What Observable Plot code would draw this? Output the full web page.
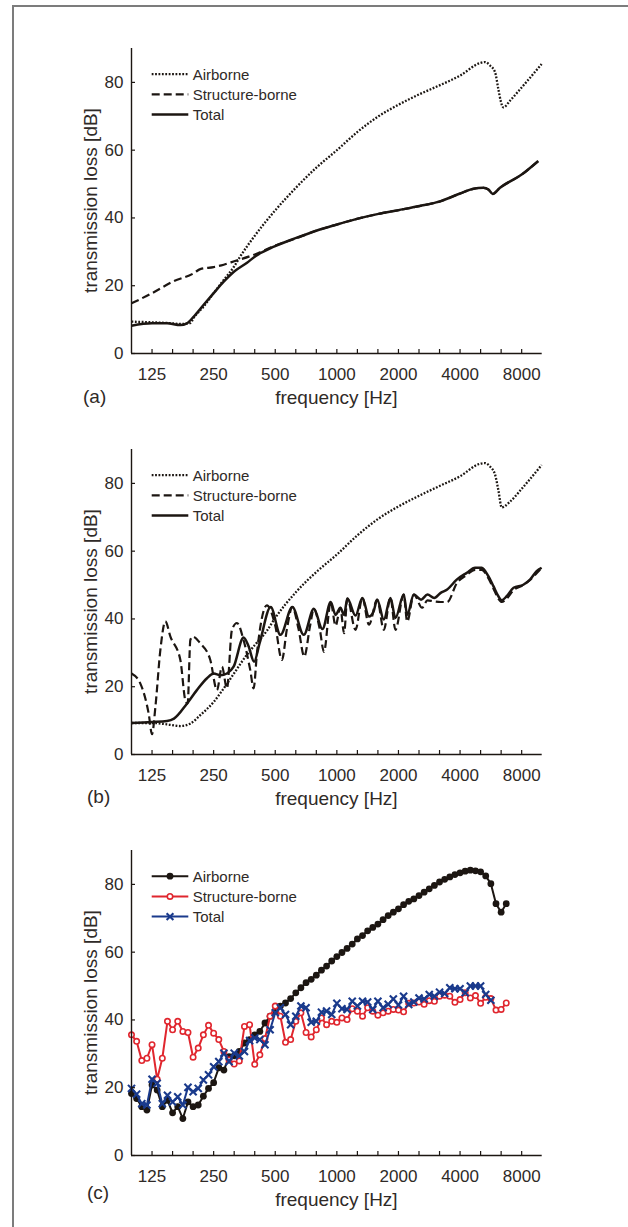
<!DOCTYPE html>
<html><head><meta charset="utf-8">
<script src="https://cdn.jsdelivr.net/npm/d3@7"></script>
<script src="https://cdn.jsdelivr.net/npm/@observablehq/plot@0.6"></script>
<style>
body{margin:0;background:#fff;}
#fig{position:relative;width:628px;height:1227px;overflow:hidden;font-family:"Liberation Sans",Arial,sans-serif;}
#frame{position:absolute;left:12px;top:5px;width:700px;height:1300px;border-left:2px solid #7c7c7c;border-top:2px solid #7c7c7c;}
#fig svg{position:absolute;left:0;}
</style></head><body><div id="fig"><div id="frame"></div></div>
<script>
// ---------- shared axis data ----------
const xDomain = [99.21, 10079];
const xLabelTicks = [125, 250, 500, 1000, 2000, 4000, 8000];
const xMinorTicks = [125, 157.5, 198.4, 250, 315, 396.9, 500, 630, 793.7, 1000, 1260, 1587, 2000, 2520, 3175, 4000, 5040, 6350, 8000];
const yTicks = [0, 20, 40, 60, 80];
const seriesNames = ["Airborne", "Structure-borne", "Total"];
const panelLetters = ["(a)", "(b)", "(c)"];
const xTitle = "frequency [Hz]";
const yTitle = "transmission loss [dB]";

// ---------- panel (a) ----------
const fA_air = [99.2, 125, 158, 172, 192, 200, 223, 250, 280, 315, 337, 400, 496, 633, 799, 992, 1267, 1598, 2000, 2533, 3195, 4000, 5008, 5300, 5602, 5929, 6155, 6316, 6510, 7015, 8000, 10013];
const tlA_air = [9.4, 9.2, 8.9, 8.7, 9.0, 10.6, 13.8, 17.8, 21.7, 25.7, 28.6, 35.0, 42.0, 49.0, 55.0, 59.8, 65.5, 70.0, 73.4, 76.5, 79.2, 82.0, 85.7, 86.0, 85.0, 83.0, 78.0, 74.6, 72.6, 74.6, 78.5, 85.4];
const fA_str = [99.2, 125, 158, 200, 215, 250, 280, 315, 400, 496, 633, 799, 992, 1267, 1598, 2000, 2533, 3195, 4000, 4646, 5200, 5500, 5775, 6270, 8000, 9650];
const tlA_str = [14.8, 17.8, 21.2, 23.7, 24.9, 25.5, 26.2, 27.2, 29.3, 31.8, 34.0, 36.3, 38.0, 39.8, 41.2, 42.3, 43.5, 44.9, 47.2, 48.6, 48.9, 48.4, 47.1, 48.9, 52.8, 56.8];
const fA_tot = [99.2, 125, 148, 172, 185, 200, 223, 250, 280, 315, 364, 400, 496, 633, 799, 992, 1267, 1598, 2000, 2533, 3195, 4000, 4646, 5200, 5500, 5775, 6270, 8000, 9650];
const tlA_tot = [8.2, 8.9, 8.9, 8.4, 8.9, 10.9, 14.3, 17.8, 21.2, 24.2, 26.8, 28.7, 31.6, 34.1, 36.3, 38.0, 39.8, 41.2, 42.3, 43.5, 44.9, 47.2, 48.6, 48.9, 48.4, 47.1, 48.9, 52.8, 56.8];

// ---------- panel (b) ----------
const fB_air = [99.2, 125, 148, 172, 192, 215, 250, 280, 315, 364, 400, 455, 496, 633, 799, 992, 1267, 1598, 2000, 2533, 3195, 4000, 5008, 5300, 5602, 5929, 6155, 6392, 7015, 8000, 10013];
const tlB_air = [9.3, 9.3, 8.9, 8.4, 9.1, 11.6, 15.5, 19.5, 24.0, 29.5, 32.5, 36.5, 40.0, 48.0, 54.0, 58.8, 64.8, 69.6, 73.2, 76.4, 79.3, 82.1, 85.8, 86.0, 85.0, 82.6, 78.0, 72.9, 74.6, 78.4, 85.4];
const fB_str = [99.2, 109.5, 120.4, 125, 129.8, 137.3, 145.2, 153.7, 171.9, 181.8, 186.6, 192.4, 197.4, 215.2, 240.8, 259.5, 274.5, 290.4, 307.2, 325, 350, 377.5, 392, 407, 455, 500, 539, 570, 606, 650, 693, 740, 772, 825, 865, 933, 986, 1040, 1085, 1125, 1234, 1332, 1435, 1575, 1696, 1828, 1933, 2123, 2206, 2378, 2610, 2772, 2975, 3216, 3461, 3852, 4311, 4735, 5102, 5500, 5820, 6155, 6392, 6760, 7300, 8150, 8788, 9468, 10013];
const tlB_str = [23.9, 21, 12, 6, 14, 30.9, 39.3, 34.8, 27.9, 16, 15, 33.8, 34.8, 32.8, 27.9, 19, 25.9, 19.5, 36.8, 38.8, 33.8, 24.9, 19.5, 29.9, 44, 38, 27.9, 37, 43.5, 37, 28.9, 38, 43, 37, 30.3, 45, 38, 43.3, 35.8, 46, 36.8, 46.2, 38.3, 45.7, 36.8, 46.2, 36.8, 47.2, 39.2, 47.2, 43.3, 45.5, 45.2, 45, 45, 50.5, 53, 54.5, 54.5, 52, 49, 46, 45, 46, 48.5, 50, 51.5, 53.5, 55];
const fB_tot = [99.2, 125, 148, 160, 185, 207, 232, 250, 270, 290, 313, 350, 370, 394, 420, 475, 530, 606, 689, 772, 850, 933, 986, 1040, 1085, 1125, 1234, 1332, 1435, 1511, 1575, 1696, 1828, 1933, 2123, 2206, 2378, 2580, 2772, 2990, 3216, 3461, 3852, 4311, 4735, 5102, 5500, 5820, 6155, 6392, 6760, 7300, 8150, 8788, 9468, 10013];
const tlB_tot = [9.3, 9.6, 9.9, 10.6, 15, 19, 22.5, 23.9, 23.4, 23.9, 25.9, 34.5, 32, 27.4, 33, 43.5, 35.3, 43.5, 35.3, 43, 37, 45, 41.2, 43.3, 41.2, 46, 41, 46.2, 40.7, 42.2, 45.7, 39.8, 46.2, 40.3, 47.2, 41.2, 47.2, 45.7, 47.2, 46.2, 47.7, 48.7, 51.6, 53.6, 55.1, 55.1, 52.6, 49.7, 46.7, 45.5, 46.7, 49.2, 50.1, 51.6, 54.1, 55.1];

// ---------- panel (c): 1/12-octave bands ----------
const fC = [99.2, 105.1, 111.4, 118.0, 125, 132.4, 140.3, 148.7, 157.5, 166.9, 176.8, 187.3, 198.4, 210.2, 222.7, 236, 250, 264.9, 280.6, 297.3, 315, 333.7, 353.6, 374.6, 396.9, 420.4, 445.4, 471.9, 500, 529.7, 561.2, 594.6, 630, 667.4, 707.1, 749.2, 793.7, 840.9, 890.9, 943.9, 1000, 1059, 1122, 1189, 1260, 1335, 1414, 1498, 1587, 1682, 1782, 1888, 2000, 2119, 2245, 2378, 2520, 2670, 2828, 2997, 3175, 3364, 3564, 3775, 4000, 4238, 4490, 4757, 5040, 5339, 5657, 5993, 6350, 6727];
const tlC_air = [18.3, 16.8, 14.4, 13.4, 20.8, 19.3, 14.4, 16.3, 12.6, 14.4, 10.9, 15.8, 14.4, 14.9, 17.5, 19.8, 21.5, 25.9, 25.2, 29.2, 29.4, 30.7, 33.2, 34.2, 35.6, 36.6, 39.1, 41.1, 42.6, 44.1, 45.0, 46.3, 48.0, 49.5, 51, 52, 53.2, 54.7, 55.9, 57.4, 58.7, 59.9, 61.1, 62.4, 63.9, 64.9, 66.3, 67.3, 68.3, 69.6, 70.8, 71.8, 72.8, 74, 75, 75.7, 76.7, 77.7, 78.7, 79.7, 80.7, 81.5, 82.2, 82.9, 83.4, 83.9, 84.2, 84, 83.7, 82.5, 80.2, 74.3, 71.8, 74.3];
const tlC_str = [35.6, 33.7, 28.0, 28.7, 32.7, 22.5, 28.7, 39.6, 37.1, 39.6, 36.6, 36.3, 29, 31.7, 35.6, 38.4, 36.1, 34.2, 30.7, 28.2, 27, 27.9, 38.1, 38.6, 26.9, 29.7, 34.5, 41.1, 44.1, 41.1, 33.4, 34.2, 39.6, 42.1, 36.3, 35, 37.1, 40.6, 38.6, 39.6, 39.3, 40.6, 40.1, 43.3, 42.6, 41.1, 43.6, 42.6, 41.4, 42.1, 42.6, 43.1, 42.9, 42.4, 44.9, 45, 45.3, 44.6, 45.7, 45.5, 47, 47.3, 47, 45.2, 46, 48, 46.5, 47.2, 44.9, 46.7, 46.3, 42.9, 43.1, 45];
const tlC_tot = [19.8, 18.1, 15.3, 14.9, 22.5, 21.3, 15.3, 17.8, 15.8, 17.3, 14.9, 20.1, 18.8, 19.8, 22.3, 23.8, 26.2, 27.7, 30.2, 27.7, 30.2, 29.4, 30.7, 33.9, 34.7, 34.2, 32.7, 37.1, 42.1, 43.6, 41.6, 38.6, 41.1, 44.1, 43.6, 39.3, 39.6, 42.3, 42.6, 41.6, 44.9, 43.3, 43.1, 45.5, 44.1, 45.5, 45.3, 43.1, 45.5, 43.6, 44.6, 46.2, 44.4, 47, 44.6, 45.3, 46.5, 46.2, 47.5, 47, 48.2, 47.8, 49.5, 49.2, 49.2, 48, 50, 50, 50, 47.5, 45.8];

// ---------- styling ----------
const W = 628, H = 420, ML = 131, MR = 86.3, MT = 48, MB = 67;
const ink = "#1c1612", textInk = "#2f2a27";
const red = "#e0262e", blue = "#1a3a8c";
const FONT = "'Liberation Sans', Arial, Helvetica, sans-serif";

const zip = (fs, vs) => vs.map((v, i) => ({f: fs[i], v}));

function panel(marks) {
  return Plot.plot({
    width: W, height: H, marginLeft: ML, marginRight: MR, marginTop: MT, marginBottom: MB,
    style: {background: "transparent", overflow: "visible", fontFamily: FONT, fontSize: "17px", color: textInk},
    x: {type: "log", domain: xDomain, axis: null},
    y: {domain: [0, 90], axis: null},
    marks: [
      ...marks,
      Plot.text(xLabelTicks, {x: d => d, frameAnchor: "bottom", lineAnchor: "top", dy: 14, text: d => String(d), fontSize: 17, fill: textInk}),
      Plot.text(yTicks, {y: d => d, frameAnchor: "left", textAnchor: "end", dx: -8, text: d => String(d), fontSize: 17, fill: textInk}),
      Plot.tickX(xMinorTicks, {x: d => d, insetTop: H - MT - MB - 4, stroke: ink, strokeWidth: 1.2}),
      Plot.tickY(yTicks, {y: d => d, insetRight: W - ML - MR - 4, stroke: ink, strokeWidth: 1.2}),
      Plot.ruleY([0], {stroke: ink, strokeWidth: 1.4}),
      Plot.ruleX([xDomain[0]], {stroke: ink, strokeWidth: 1.4})
    ]
  });
}

function decorate(svg, letter, lx, ly) {
  const s = d3.select(svg);
  s.append("text").attr("transform", "translate(97,200.5) rotate(-90)").attr("text-anchor", "middle")
    .attr("font-size", 19).attr("fill", textInk).attr("font-family", FONT).text(yTitle);
  s.append("text").attr("x", 336.4).attr("y", 403.5).attr("text-anchor", "middle")
    .attr("font-size", 19).attr("fill", textInk).attr("font-family", FONT).text(xTitle);
  s.append("text").attr("x", lx).attr("y", ly).attr("text-anchor", "start")
    .attr("font-size", 19).attr("fill", textInk).attr("font-family", FONT).text(letter);
}

function legend(svg, styles) {
  const g = d3.select(svg).append("g").attr("text-anchor", "start");
  styles.forEach((st, i) => {
    const y = 74.2 + i * 20.2;
    g.append("line").attr("x1", 151.7).attr("x2", 188.3).attr("y1", y).attr("y2", y)
      .attr("stroke", st.color).attr("stroke-width", st.width).attr("stroke-dasharray", st.dash || null)
      .attr("stroke-linecap", "butt");
    if (st.marker === "dot") g.append("circle").attr("cx", 170).attr("cy", y).attr("r", 3.4).attr("fill", st.color);
    if (st.marker === "ring") g.append("circle").attr("cx", 170).attr("cy", y).attr("r", 2.7).attr("fill", "white").attr("stroke", st.color).attr("stroke-width", 1.6);
    if (st.marker === "x") g.append("path").attr("d", "M-3.4,-3.4L3.4,3.4M-3.4,3.4L3.4,-3.4").attr("transform", `translate(170,${y})`).attr("stroke", st.color).attr("stroke-width", 2.1);
    g.append("text").attr("x", 192.7).attr("y", y).attr("dy", "0.36em").attr("font-size", 15)
      .attr("text-anchor", "start").attr("fill", textInk).attr("font-family", FONT).text(seriesNames[i]);
  });
}

const DOT = "1.8,1.6", DASH = "8,4";
const lineStyles = [
  {color: ink, width: 2.3, dash: DOT},
  {color: ink, width: 2.2, dash: DASH},
  {color: ink, width: 2.5}
];
const lineOpts = (st) => ({x: "f", y: "v", stroke: st.color, strokeWidth: st.width, strokeDasharray: st.dash, strokeLinecap: "butt", curve: "monotone-x"});

const fig = document.getElementById("fig");

// panel (a)
const svgA = panel([
  Plot.line(zip(fA_air, tlA_air), lineOpts(lineStyles[0])),
  Plot.line(zip(fA_str, tlA_str), lineOpts(lineStyles[1])),
  Plot.line(zip(fA_tot, tlA_tot), lineOpts(lineStyles[2]))
]);
svgA.style.top = "0px";
decorate(svgA, panelLetters[0], 83, 403);
legend(svgA, lineStyles);
fig.appendChild(svgA);

// panel (b)
const svgB = panel([
  Plot.line(zip(fB_air, tlB_air), lineOpts(lineStyles[0])),
  Plot.line(zip(fB_str, tlB_str), lineOpts(lineStyles[1])),
  Plot.line(zip(fB_tot, tlB_tot), lineOpts(lineStyles[2]))
]);
svgB.style.top = "401px";
decorate(svgB, panelLetters[1], 87, 402);
legend(svgB, lineStyles);
fig.appendChild(svgB);

// panel (c)
const dC_air = zip(fC, tlC_air), dC_str = zip(fC, tlC_str), dC_tot = zip(fC, tlC_tot);
const svgC = panel([
  Plot.line(dC_air, {x: "f", y: "v", stroke: ink, strokeWidth: 2}),
  Plot.dot(dC_air, {x: "f", y: "v", r: 3.4, fill: ink}),
  Plot.line(dC_str, {x: "f", y: "v", stroke: red, strokeWidth: 2}),
  Plot.dot(dC_str, {x: "f", y: "v", r: 2.7, fill: "white", stroke: red, strokeWidth: 1.6}),
  Plot.line(dC_tot, {x: "f", y: "v", stroke: blue, strokeWidth: 2}),
  Plot.dot(dC_tot, {x: "f", y: "v", r: 3.3, symbol: "times", stroke: blue, strokeWidth: 2.1})
]);
svgC.style.top = "802px";
decorate(svgC, panelLetters[2], 87, 397);
legend(svgC, [
  {color: ink, width: 2, marker: "dot"},
  {color: red, width: 2, marker: "ring"},
  {color: blue, width: 2, marker: "x"}
]);
fig.appendChild(svgC);
</script></body></html>
